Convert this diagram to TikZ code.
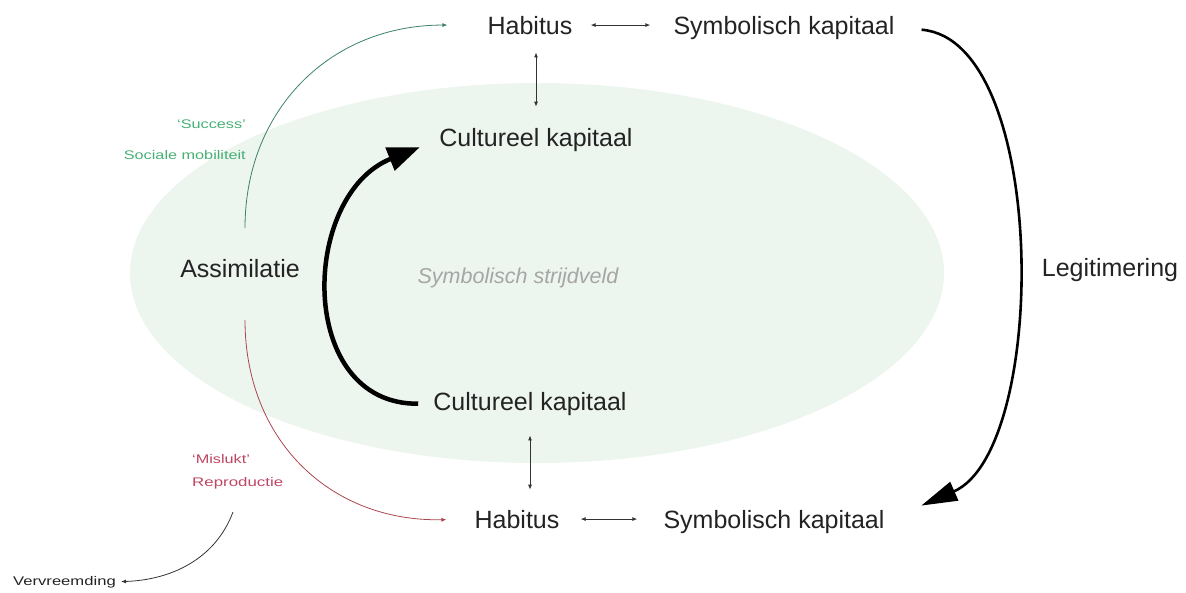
\documentclass[tikz,border=0pt]{standalone}
\usepackage{fontspec}
\setmainfont{Liberation Sans}
\usetikzlibrary{arrows.meta}
\definecolor{fieldfill}{RGB}{237,245,239}
\definecolor{txt}{RGB}{35,35,35}
\definecolor{succ}{RGB}{70,175,115}
\definecolor{succline}{RGB}{60,130,100}
\definecolor{fail}{RGB}{190,70,100}
\definecolor{failline}{RGB}{170,70,80}
\begin{document}
\begin{tikzpicture}[x=1pt,y=-1pt,
  lbl/.style={inner sep=0pt, text=txt, font=\fontsize{25}{30}\selectfont},
  small/.style={inner sep=0pt, font=\fontsize{12.5}{15}\selectfont},
  tinyarrow/.style={{Latex[length=5pt,width=4pt]}-{Latex[length=5pt,width=4pt]}, line width=0.9pt, draw=black!80},
  thinflow/.style={line width=0.8pt, -{Latex[length=5pt,width=4pt]}},
]
\useasboundingbox (0,0) rectangle (1186,592);
\fill[fieldfill] (537,273) ellipse [x radius=407, y radius=190];

\node[lbl, anchor=base] (hab1) at (530,34) {Habitus};
\node[lbl, anchor=base] (sym1) at (784,34) {Symbolisch kapitaal};
\node[lbl, anchor=base] (cul1) at (536,146) {Cultureel kapitaal};
\node[lbl, anchor=base] (cul2) at (530,410) {Cultureel kapitaal};
\node[lbl, anchor=base] (hab2) at (517,528) {Habitus};
\node[lbl, anchor=base] (sym2) at (774,528) {Symbolisch kapitaal};
\node[lbl, anchor=base] (assim) at (240,277) {Assimilatie};
\node[lbl, anchor=base] (legit) at (1110,276) {Legitimering};
\node[anchor=base, inner sep=0pt, text=black!35, font=\fontsize{21.5}{26}\selectfont\itshape] (field) at (518,283) {Symbolisch strijdveld};

\node[small, text=succ, anchor=base east] (succ1) at (246,128) {\scalebox{1.3}[1]{‘Success’}};
\node[small, text=succ, anchor=base east] (succ2) at (246,159) {\scalebox{1.3}[1]{Sociale mobiliteit}};
\node[small, text=fail, anchor=base west] (fail1) at (192,463) {\scalebox{1.3}[1]{‘Mislukt’}};
\node[small, text=fail, anchor=base west] (fail2) at (192,486) {\scalebox{1.35}[1]{Reproductie}};
\node[small, text=txt, anchor=base west] (verv) at (13,585) {\scalebox{1.33}[1]{Vervreemding}};

\coordinate (gstart) at (245,228);
\coordinate (rstart) at (245,320);
\coordinate (vstart) at (233,512);

\draw[tinyarrow, shorten <=18pt, shorten >=23pt] (hab1.east) -- (hab1.east -| sym1.west);
\draw[tinyarrow, shorten <=21pt, shorten >=26pt] (hab2.east) -- (hab2.east -| sym2.west);
\draw[tinyarrow, shorten <=18pt, shorten >=21pt] (hab1.south -| cul1.north) -- (cul1.north);
\draw[tinyarrow, shorten <=20pt, shorten >=20pt] (cul2.south) -- (cul2.south |- hab2.north);

\draw[thinflow, succline, shorten >=40pt] (gstart) .. controls (245,110) and (330,25) .. (hab1.west);
\draw[thinflow, failline, shorten >=28pt] (rstart) .. controls (245,440) and (330,522) .. (hab2.west);
\draw[thinflow, black!80, shorten >=5pt] (vstart) .. controls (215,560) and (170,580) .. (verv.east);

\draw[line width=2.6pt, -{Triangle[length=36pt,width=20pt]}, shorten <=27pt, shorten >=40pt]
  (sym1.east) .. controls (1049,40) and (1049,450) .. (sym2.east);
\draw[line width=4.5pt, -{Triangle[length=32pt,width=24pt]}, shorten <=15pt, shorten >=21pt]
  (cul2.west) .. controls (296,405) and (300,195) .. (cul1.west);
\end{tikzpicture}
\end{document}
